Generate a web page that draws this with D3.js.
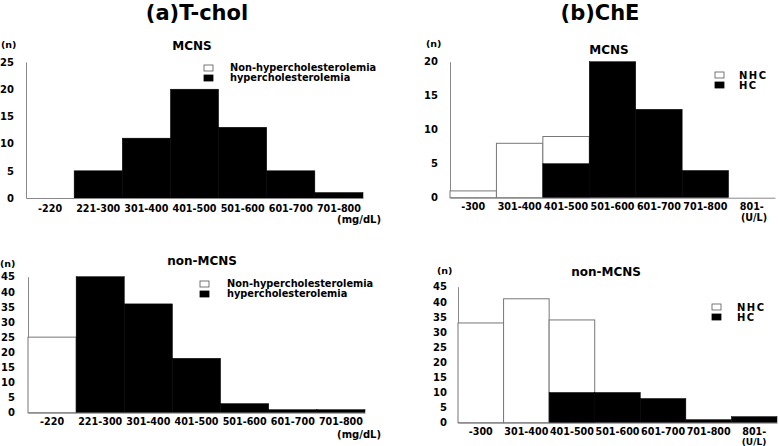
<!DOCTYPE html>
<html>
<head>
<meta charset="utf-8">
<script src="https://cdn.jsdelivr.net/npm/d3@7.9.0/dist/d3.min.js"></script>
<style>
  html, body { margin: 0; padding: 0; background: #fff; }
  svg { display: block; font-family: "DejaVu Sans", sans-serif; font-weight: bold; }
</style>
</head>
<body>
<div id="chart"></div>
<script>
// categories
const tcholCats = ["-220", "221-300", "301-400", "401-500", "501-600", "601-700", "701-800"];
const cheCats = ["-300", "301-400", "401-500", "501-600", "601-700", "701-800", "801-"];

// counts (n)
const tcholMcnsNHC = [0, 0, 0, 0, 0, 0, 0];
const tcholMcnsHC = [0, 5, 11, 20, 13, 5, 1];
const tcholNonNHC = [25, 0, 0, 0, 0, 0, 0];
const tcholNonHC = [0, 45, 36, 18, 3, 1, 1];
const cheMcnsNHC = [1, 8, 9, 0, 0, 0, 0];
const cheMcnsHC = [0, 0, 5, 20, 13, 4, 0];
const cheNonNHC = [33, 41, 34, 0, 0, 0, 0];
const cheNonHC = [0, 0, 10, 10, 8, 1, 2];

// y axis tick labels
const ticks25 = [0, 5, 10, 15, 20, 25];
const ticks20 = [0, 5, 10, 15, 20];
const ticks45 = [0, 5, 10, 15, 20, 25, 30, 35, 40, 45];

const tcholLegend = ["Non-hypercholesterolemia", "hypercholesterolemia"];
const cheLegend = ["NHC", "HC"];

const svg = d3.select("#chart")
  .append("svg")
    .attr("width", 780)
    .attr("height", 446);

// column titles
svg.append("text").attr("x", 197).attr("y", 20).attr("text-anchor", "middle")
  .attr("font-size", 21).text("(a)T-chol");
svg.append("text").attr("x", 600).attr("y", 20).attr("text-anchor", "middle")
  .attr("font-size", 21).text("(b)ChE");

function drawPanel(p) {
  const x = d3.scaleBand()
    .domain(p.cats)
    .range([p.left, p.right])
    .padding(0);
  const y = d3.scaleLinear()
    .domain([0, d3.max(p.ticks)])
    .range([p.base, p.top]);

  const g = svg.append("g");

  // Y axis
  const ya = g.append("g")
    .attr("transform", `translate(${p.left},0)`)
    .call(d3.axisLeft(y).tickValues(p.ticks).tickSize(0).tickPadding(p.yPad));
  ya.select(".domain").attr("stroke", "#888");
  ya.selectAll("text").attr("font-size", 10).attr("font-family", "DejaVu Sans").attr("font-weight", "bold").attr("fill", "#000");

  const rows = p.cats.map((c, i) => ({c, nhc: p.nhc[i], hc: p.hc[i]}));

  // NHC bars (white, drawn behind)
  g.selectAll("rect.nhc")
    .data(rows.filter(d => d.nhc > 0))
    .join("rect")
      .attr("class", "nhc")
      .attr("x", d => x(d.c))
      .attr("y", d => y(d.nhc))
      .attr("width", x.bandwidth())
      .attr("height", d => y(0) - y(d.nhc))
      .attr("fill", "#fff")
      .attr("stroke", "#777")
      .attr("stroke-width", 1);

  // HC bars (black, in front)
  g.selectAll("rect.hc")
    .data(rows.filter(d => d.hc > 0))
    .join("rect")
      .attr("class", "hc")
      .attr("x", d => x(d.c))
      .attr("y", d => y(d.hc))
      .attr("width", x.bandwidth())
      .attr("height", d => y(0) - y(d.hc))
      .attr("fill", "#000")
      .attr("stroke", "#000")
      .attr("stroke-width", 0.5);

  // X axis
  const xa = g.append("g")
    .attr("transform", `translate(0,${p.base})`)
    .call(d3.axisBottom(x).tickSize(0).tickPadding(p.xPad));
  xa.select(".domain").attr("stroke", "#888");
  xa.selectAll("text").attr("font-size", 9.6).attr("font-family", "DejaVu Sans").attr("font-weight", "bold").attr("fill", "#000");

  // unit labels
  g.append("text").attr("x", p.nX).attr("y", p.nY).attr("font-size", 9.5).text("(n)");
  g.append("text").attr("x", p.unitX).attr("y", p.unitY).attr("text-anchor", p.unitAnchor)
    .attr("font-size", p.unitSize).text(p.unit);

  // panel title
  g.append("text").attr("x", p.titleX).attr("y", p.titleY).attr("text-anchor", "middle")
    .attr("font-size", 12).text(p.title);

  // legend
  const lg = g.append("g").attr("transform", `translate(${p.legX},${p.legY})`);
  p.legend.forEach((name, i) => {
    lg.append("rect")
      .attr("x", 0).attr("y", i * 10 - 3)
      .attr("width", 9).attr("height", 6)
      .attr("fill", i === 0 ? "#fff" : "#000")
      .attr("stroke", i === 0 ? "#555" : "#000")
      .attr("stroke-width", 0.8);
    lg.append("text")
      .attr("x", p.legTextDx).attr("y", i * 10)
      .attr("dy", "0.35em")
      .attr("font-size", p.legSize)
      .attr("letter-spacing", p.legSpacing)
      .text(name);
  });
}

drawPanel({
  cats: tcholCats, nhc: tcholMcnsNHC, hc: tcholMcnsHC, ticks: ticks25,
  left: 26, right: 363, base: 198, top: 62, yPad: 12, xPad: 7,
  nX: 1, nY: 48, unit: "(mg/dL)", unitX: 381, unitY: 223, unitAnchor: "end", unitSize: 10,
  title: "MCNS", titleX: 192, titleY: 50,
  legend: tcholLegend, legX: 204, legY: 68, legTextDx: 26, legSize: 9.8, legSpacing: 0
});
drawPanel({
  cats: tcholCats, nhc: tcholNonNHC, hc: tcholNonHC, ticks: ticks45,
  left: 28, right: 365, base: 412.7, top: 276.7, yPad: 13, xPad: 5,
  nX: 0, nY: 267, unit: "(mg/dL)", unitX: 381, unitY: 438, unitAnchor: "end", unitSize: 10,
  title: "non-MCNS", titleX: 202, titleY: 265,
  legend: tcholLegend, legX: 200, legY: 284, legTextDx: 27, legSize: 9.8, legSpacing: 0
});
drawPanel({
  cats: cheCats, nhc: cheMcnsNHC, hc: cheMcnsHC, ticks: ticks20,
  left: 450, right: 775, base: 197.7, top: 61.7, yPad: 12, xPad: 5,
  nX: 426, nY: 47, unit: "(U/L)", unitX: 754, unitY: 221, unitAnchor: "middle", unitSize: 9.6,
  title: "MCNS", titleX: 609, titleY: 54,
  legend: cheLegend, legX: 715, legY: 75, legTextDx: 24, legSize: 10, legSpacing: 1.5
});
drawPanel({
  cats: cheCats, nhc: cheNonNHC, hc: cheNonHC, ticks: ticks45,
  left: 458, right: 777, base: 422.7, top: 286.7, yPad: 11, xPad: 5,
  nX: 437, nY: 274, unit: "(U/L)", unitX: 754, unitY: 445, unitAnchor: "middle", unitSize: 9,
  title: "non-MCNS", titleX: 606, titleY: 276,
  legend: cheLegend, legX: 712, legY: 307, legTextDx: 25, legSize: 10, legSpacing: 1.5
});
</script>
</body>
</html>
